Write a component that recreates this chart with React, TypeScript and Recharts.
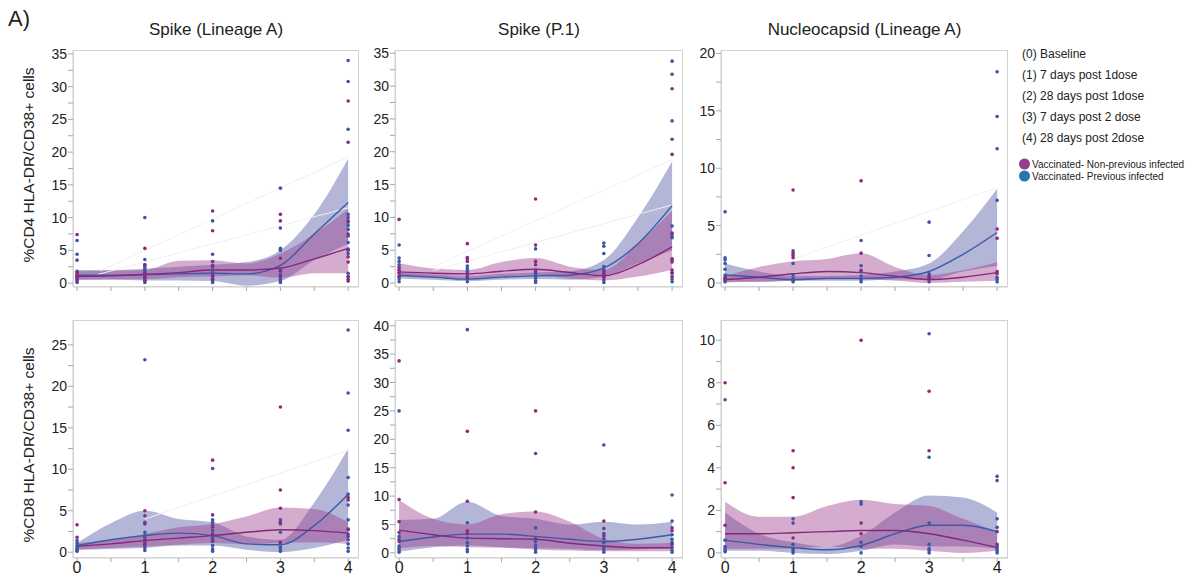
import React from "react";
import { ComposedChart, Area, Line, Scatter, XAxis, YAxis, ReferenceLine } from "recharts";

// sample positions of the fitted curves
const curveX = [0, 0.5, 1, 1.5, 2, 2.5, 3, 3.5, 4];
const timePoints = [0, 1, 2, 3, 4];

const legendLabels = [
  "(0) Baseline",
  "(1) 7 days post 1dose",
  "(2) 28 days post 1dose",
  "(3) 7 days post 2 dose",
  "(4) 28 days post 2dose",
];
const groupNames = ["Vaccinated- Non-previous infected", "Vaccinated- Previous infected"];

// ---- CD4, Spike (Lineage A)
const cd4SpikeANonLine = [1.0, 1.1, 1.3, 1.6, 2.0, 2.0, 2.3, 3.7, 5.3];
const cd4SpikeAPrevLine = [1.2, 1.2, 1.3, 1.4, 1.5, 1.4, 2.7, 7.5, 12.3];
const cd4SpikeANonLo = [0.5, 0.6, 0.6, 0.9, 1.0, 1.2, 0.8, 1.5, 1.5];
const cd4SpikeANonHi = [1.8, 1.9, 2.0, 3.4, 3.5, 3.0, 4.5, 7.5, 11.3];
const cd4SpikeAPrevLo = [0.5, 0.5, 0.4, 0.4, 0.3, -0.4, 0.3, 3.5, 6.0];
const cd4SpikeAPrevHi = [2.0, 2.0, 2.2, 2.5, 2.8, 3.2, 5.0, 10.5, 19.0];
const cd4SpikeANonDots = [
  [7.4, 1.6, 1.2, 0.9, 0.5],
  [5.3, 2.8, 1.5, 0.9, 0.4],
  [11.0, 8.0, 3.3, 2.5, 1.2, 0.6],
  [10.5, 9.5, 3.8, 1.8, 1.0],
  [27.8, 21.5, 9.5, 7.5, 5.0, 4.0, 3.2, 1.0, 0.6, 0.3],
];
const cd4SpikeAPrevDots = [
  [6.5, 4.4, 3.5, 1.8, 1.4, 1.0, 0.7, 0.3, 0.1],
  [10.0, 3.6, 2.8, 2.5, 2.2, 2.0, 1.7, 1.3, 1.0, 0.7, 0.4, 0.1],
  [9.5, 4.4, 2.7, 2.0, 1.6, 1.0, 0.6, 0.3, 0.1],
  [14.5, 8.4, 5.3, 5.0, 2.0, 1.3, 0.6, 0.3, 0.1],
  [34, 30.8, 23.5, 10.5, 10, 9.3, 8.8, 8.2, 7.2, 6.2, 5.2, 4.5, 1.5, 1.0],
];
const cd4SpikeAFaint = [
  [0.35, 1.9, 4, 19.3],
  [0.3, 1.3, 4, 11.5],
];

// ---- CD4, Spike (P.1)
const cd4SpikeP1NonLine = [1.7, 1.5, 1.4, 1.8, 2.1, 1.6, 1.1, 2.8, 5.5];
const cd4SpikeP1PrevLine = [1.2, 0.9, 0.6, 0.9, 1.1, 1.2, 2.3, 6.0, 11.8];
const cd4SpikeP1NonLo = [1.0, 0.8, 0.8, 1.0, 1.2, 0.7, 0.4, 1.0, 2.0];
const cd4SpikeP1NonHi = [3.0, 2.2, 2.0, 3.2, 3.8, 2.5, 2.0, 6.0, 11.0];
const cd4SpikeP1PrevLo = [0.7, 0.5, 0.3, 0.5, 0.6, 0.5, 1.0, 3.0, 5.0];
const cd4SpikeP1PrevHi = [1.6, 1.3, 1.0, 1.4, 1.6, 1.8, 3.5, 10.0, 18.5];
const cd4SpikeP1NonDots = [
  [9.7, 2.4, 2.0, 1.6, 1.0],
  [6.0, 3.9, 3.7, 3.3, 1.5, 0.8],
  [12.8, 5.8, 3.3, 2.8, 1.8],
  [1.8, 1.3, 0.9],
  [29.6, 19.6, 7.6, 3.7, 3.2, 2.0, 1.6, 1.0],
];
const cd4SpikeP1PrevDots = [
  [5.8, 3.8, 3.3, 2.8, 2.0, 1.5, 1.0, 0.6, 0.2],
  [2.6, 2.2, 1.8, 1.3, 1.0, 0.6, 0.2],
  [5.2, 2.0, 1.5, 1.2, 0.8, 0.4, 0.1],
  [6.1, 5.6, 4.5, 2.5, 2.0, 1.5, 1.0, 0.5, 0.1],
  [33.8, 31.8, 24.7, 21.9, 8.7, 7.2, 6.9, 3.5, 1.5, 0.6, 0.2],
];
const cd4SpikeP1Faint = [
  [0.5, 2.5, 4, 18.8],
  [0.5, 1.9, 4, 11.9],
];

// ---- CD4, Nucleocapsid (Lineage A)
const cd4NucNonLine = [0.3, 0.5, 0.8, 1.0, 0.9, 0.6, 0.3, 0.5, 0.9];
const cd4NucPrevLine = [0.7, 0.5, 0.3, 0.4, 0.4, 0.5, 1.0, 2.5, 4.4];
const cd4NucNonLo = [0.05, 0.1, 0.2, 0.3, 0.3, 0.2, 0.0, 0.1, 0.2];
const cd4NucNonHi = [0.6, 1.4, 1.9, 2.1, 2.6, 1.4, 0.7, 1.1, 1.8];
const cd4NucPrevLo = [0.1, 0.1, 0.2, 0.2, 0.2, 0.3, 0.3, 1.0, 1.5];
const cd4NucPrevHi = [1.7, 1.0, 0.6, 0.6, 0.7, 1.0, 1.7, 4.5, 8.2];
const cd4NucNonDots = [
  [0.5, 0.3],
  [8.1, 2.6, 2.4, 2.2],
  [8.9, 2.6, 1.1],
  [0.6, 0.4],
  [4.7, 3.9, 1.0, 0.8],
];
const cd4NucPrevDots = [
  [6.2, 2.2, 2.0, 1.7, 1.2, 0.7, 0.4, 0.2, 0.1],
  [2.8, 1.7, 0.7, 0.4, 0.2, 0.1],
  [3.7, 1.5, 1.0, 0.6, 0.3, 0.1],
  [5.3, 2.4, 0.8, 0.5, 0.3, 0.1],
  [18.4, 14.5, 11.7, 7.2, 0.5, 0.3, 0.1],
];
const cd4NucFaint = [[1, 2.1, 4, 8.3]];

// ---- CD8, Spike (Lineage A)
const cd8SpikeANonLine = [0.7, 1.0, 1.4, 1.7, 2.0, 2.4, 2.7, 2.6, 2.3];
const cd8SpikeAPrevLine = [0.8, 1.5, 2.0, 2.3, 2.0, 1.0, 0.9, 3.2, 7.0];
const cd8SpikeANonLo = [0.3, 0.5, 0.7, 0.9, 1.1, 1.0, 1.1, 1.2, 1.0];
const cd8SpikeANonHi = [1.1, 1.5, 2.2, 3.0, 3.4, 4.3, 5.4, 5.2, 3.6];
const cd8SpikeAPrevLo = [0.3, 0.4, 0.5, 0.8, 0.8, 0.3, 0.0, 0.5, 1.5];
const cd8SpikeAPrevHi = [1.1, 3.5, 5.0, 4.0, 3.6, 1.9, 1.5, 6.0, 12.5];
const cd8SpikeANonDots = [
  [3.3, 1.8],
  [5.0, 4.4, 3.4, 1.5, 1.0],
  [11.1, 4.5, 3.0, 2.2, 1.5],
  [17.5, 7.5, 5.3, 3.6, 1.2],
  [6.6, 6.3, 2.8, 1.9],
];
const cd8SpikeAPrevDots = [
  [1.4, 1.1, 0.8, 0.6, 0.4, 0.2, 0.1],
  [23.2, 3.6, 2.4, 2.0, 1.8, 1.2, 0.8, 0.5, 0.2],
  [10.1, 3.9, 3.6, 3.3, 2.6, 1.8, 1.3, 0.8, 0.4, 0.1],
  [3.9, 3.4, 2.4, 1.0, 0.6, 0.3, 0.1],
  [26.8, 19.2, 14.7, 9.0, 7.0, 5.7, 3.9, 2.7, 2.2, 1.5, 1.0, 0.5, 0.1],
];
const cd8SpikeAFaint = [[1, 4.0, 4, 12.3]];

// ---- CD8, Spike (P.1)
const cd8SpikeP1NonLine = [4.0, 3.2, 2.6, 2.5, 2.4, 1.7, 1.2, 0.9, 0.9];
const cd8SpikeP1PrevLine = [2.0, 2.8, 3.3, 3.3, 2.9, 2.4, 2.0, 2.4, 3.2];
const cd8SpikeP1NonLo = [0.8, 1.2, 1.0, 0.9, 0.6, 0.4, 0.3, 0.3, 0.3];
const cd8SpikeP1NonHi = [9.3, 6.0, 5.0, 6.8, 7.3, 5.5, 2.5, 1.6, 1.8];
const cd8SpikeP1PrevLo = [0.2, 1.0, 1.3, 1.0, 0.8, 0.7, 0.5, 0.6, 0.8];
const cd8SpikeP1PrevHi = [5.8, 6.0, 9.0, 6.5, 6.0, 5.0, 5.5, 5.0, 5.5];
const cd8SpikeP1NonDots = [
  [33.8, 9.4, 5.5, 3.6, 2.0],
  [21.4, 9.1, 3.9, 3.4],
  [25.0, 7.2, 2.5],
  [5.6, 4.3, 3.0],
  [4.4, 3.9, 1.5],
];
const cd8SpikeP1PrevDots = [
  [25.0, 2.9, 2.4, 1.2, 0.8, 0.4, 0.1],
  [39.3, 5.3, 2.6, 1.8, 1.2, 0.6, 0.2],
  [17.5, 4.4, 2.0, 1.4, 0.9, 0.5, 0.1],
  [19.0, 3.4, 2.5, 1.8, 1.0, 0.5, 0.1],
  [10.2, 5.6, 3.2, 2.4, 1.8, 1.0, 0.5, 0.1],
];

// ---- CD8, Nucleocapsid (Lineage A)
const cd8NucNonLine = [0.9, 0.9, 0.95, 1.0, 1.05, 1.05, 0.9, 0.6, 0.25];
const cd8NucPrevLine = [0.6, 0.4, 0.25, 0.15, 0.35, 0.9, 1.3, 1.3, 1.0];
const cd8NucNonLo = [0.2, 0.2, 0.2, 0.3, 0.2, 0.2, 0.1, 0.0, 0.1];
const cd8NucNonHi = [2.4, 1.7, 1.7, 2.2, 2.5, 2.3, 2.2, 1.6, 1.0];
const cd8NucPrevLo = [0.1, 0.1, 0.0, -0.05, 0.1, 0.4, 0.3, 0.3, 0.2];
const cd8NucPrevHi = [1.9, 0.9, 0.5, 0.3, 0.8, 1.9, 2.7, 2.6, 1.9];
const cd8NucNonDots = [
  [8.0, 3.3, 1.3],
  [4.8, 4.0, 2.6, 0.7],
  [10.0, 1.4, 0.9],
  [7.6, 4.8],
  [1.0, 0.4],
];
const cd8NucPrevDots = [
  [7.2, 0.6, 0.3, 0.2, 0.1, 0.05],
  [1.6, 1.4, 0.4, 0.2, 0.1, 0.0],
  [2.4, 2.3, 0.5, 0.3, 0.0],
  [10.3, 4.5, 1.4, 0.4, 0.2, 0.1, 0.0],
  [3.6, 3.4, 1.6, 1.2, 0.3, 0.2, 0.1, 0.0],
];

const PURPLE_DOT = "#8c2a7f";
const BLUE_DOT = "#3c55a5";
const PURPLE_LINE = "#86277c";
const BLUE_LINE = "#3b5aa6";
const FONT = "'Liberation Sans', Arial, sans-serif";

const xTicks = [0, 0.5, 1, 1.5, 2, 2.5, 3, 3.5, 4];

function range(max: number, step: number) {
  const out: number[] = [];
  for (let v = 0; v <= max + 1e-9; v += step) out.push(Math.round(v * 100) / 100);
  return out;
}

function buildRows(nl: number[], pl: number[], nlo: number[], nhi: number[], plo: number[], phi: number[]) {
  return curveX.map((x, i) => ({
    x,
    nonLine: nl[i],
    prevLine: pl[i],
    nonBand: [nlo[i], nhi[i]],
    prevBand: [plo[i], phi[i]],
  }));
}

function flatten(dots: number[][]) {
  const out: { x: number; y: number }[] = [];
  dots.forEach((col, i) => col.forEach((y) => out.push({ x: timePoints[i], y })));
  return out;
}

interface PanelProps {
  left: number;
  top: number;
  w: number;
  h: number;
  yDomain: [number, number];
  yTicks: number[];
  yMajor: number;
  showXLabels: boolean;
  rows: any[];
  nonDots: number[][];
  prevDots: number[][];
  faint?: number[][];
}

function Panel({ left, top, w, h, yDomain, yTicks, yMajor, showXLabels, rows, nonDots, prevDots, faint = [] }: PanelProps) {
  const yw = 40;
  const xh = 22;
  const pad = 10;
  const yTick = (p: any) => {
    const v = p.payload.value;
    if (Math.abs(v / yMajor - Math.round(v / yMajor)) > 1e-6) return <g />;
    return (
      <text x={p.x} y={p.y} dy="0.36em" textAnchor="end" fontSize={14} fill="#222" fontFamily={FONT}>
        {v}
      </text>
    );
  };
  const xTick = (p: any) => {
    const v = p.payload.value;
    if (!showXLabels || !Number.isInteger(v)) return <g />;
    return (
      <text x={p.x} y={p.y} dy="0.7em" textAnchor="middle" fontSize={16} fill="#222" fontFamily={FONT}>
        {v}
      </text>
    );
  };
  return (
    <>
      <div style={{ position: "absolute", left: left - yw, top: top - pad }}>
        <ComposedChart width={w + yw + 4} height={h + xh + pad} data={rows} margin={{ top: pad, right: 4, bottom: 0, left: 0 }}>
          <XAxis
            type="number"
            dataKey="x"
            domain={[-0.06, 4.16]}
            allowDataOverflow
            ticks={xTicks}
            height={xh}
            tickSize={4}
            tickMargin={0}
            axisLine={{ stroke: "#cfcfcf" }}
            tickLine={{ stroke: "#a8a8a8" }}
            tick={xTick}
            interval={0}
          />
          <YAxis
            type="number"
            domain={yDomain}
            allowDataOverflow
            ticks={yTicks}
            width={yw}
            tickSize={5}
            tickMargin={1}
            axisLine={{ stroke: "#cfcfcf" }}
            tickLine={{ stroke: "#a8a8a8" }}
            tick={yTick}
            interval={0}
          />
          {faint.map((f, i) => (
            <ReferenceLine
              key={i}
              segment={[
                { x: f[0], y: f[1] },
                { x: f[2], y: f[3] },
              ]}
              stroke="#f4edf2"
              strokeWidth={1}
            />
          ))}
          <Area
            type="monotone"
            dataKey="prevBand"
            stroke="none"
            fill="#4a52a0"
            fillOpacity={0.42}
            isAnimationActive={false}
          />
          <Area
            type="monotone"
            dataKey="nonBand"
            stroke="none"
            fill="#9a3a8a"
            fillOpacity={0.42}
            isAnimationActive={false}
          />
          <Line type="monotone" dataKey="prevLine" stroke={BLUE_LINE} strokeWidth={1.4} dot={false} isAnimationActive={false} />
          <Line type="monotone" dataKey="nonLine" stroke={PURPLE_LINE} strokeWidth={1.4} dot={false} isAnimationActive={false} />
          <Scatter
            data={flatten(prevDots)}
            dataKey="y"
            isAnimationActive={false}
            shape={(p: any) => <circle cx={p.cx} cy={p.cy} r={1.8} fill={BLUE_DOT} />}
          />
          <Scatter
            data={flatten(nonDots)}
            dataKey="y"
            isAnimationActive={false}
            shape={(p: any) => <circle cx={p.cx} cy={p.cy} r={1.8} fill={PURPLE_DOT} />}
          />
        </ComposedChart>
      </div>
      <div
        style={{
          position: "absolute",
          left,
          top,
          width: w,
          height: h,
          border: "1px solid #d2d2d2",
          boxSizing: "border-box",
          pointerEvents: "none",
        }}
      />
    </>
  );
}

const cols = [
  { left: 73, w: 286 },
  { left: 395, w: 288 },
  { left: 721, w: 287 },
];
const titles = ["Spike (Lineage A)", "Spike (P.1)", "Nucleocapsid (Lineage A)"];

export default function App() {
  const topY = 50;
  const topH = 237;
  const botY = 320;
  const botH = 238;
  return (
    <div
      style={{
        position: "absolute",
        left: 0,
        top: 0,
        width: 1191,
        height: 577,
        background: "#fff",
        fontFamily: FONT,
        color: "#222",
        overflow: "hidden",
      }}
    >
      <div style={{ position: "absolute", left: 8, top: 6, fontSize: 22 }}>A)</div>
      {titles.map((t, i) => (
        <div
          key={t}
          style={{
            position: "absolute",
            left: cols[i].left,
            width: cols[i].w,
            top: 20,
            textAlign: "center",
            fontSize: 17,
            whiteSpace: "nowrap",
          }}
        >
          {t}
        </div>
      ))}
      <div
        style={{
          position: "absolute",
          left: 29,
          top: 165,
          transform: "translate(-50%, -50%) rotate(-90deg)",
          fontSize: 15.5,
          whiteSpace: "nowrap",
        }}
      >
        %CD4 HLA-DR/CD38+ cells
      </div>
      <div
        style={{
          position: "absolute",
          left: 29,
          top: 445,
          transform: "translate(-50%, -50%) rotate(-90deg)",
          fontSize: 15.5,
          whiteSpace: "nowrap",
        }}
      >
        %CD8 HLA-DR/CD38+ cells
      </div>

      <Panel
        left={cols[0].left}
        w={cols[0].w}
        top={topY}
        h={topH}
        yDomain={[-0.6, 35.6]}
        yTicks={range(35, 2.5)}
        yMajor={5}
        showXLabels={false}
        rows={buildRows(cd4SpikeANonLine, cd4SpikeAPrevLine, cd4SpikeANonLo, cd4SpikeANonHi, cd4SpikeAPrevLo, cd4SpikeAPrevHi)}
        nonDots={cd4SpikeANonDots}
        prevDots={cd4SpikeAPrevDots}
        faint={cd4SpikeAFaint}
      />
      <Panel
        left={cols[1].left}
        w={cols[1].w}
        top={topY}
        h={topH}
        yDomain={[-0.6, 35.5]}
        yTicks={range(35, 2.5)}
        yMajor={5}
        showXLabels={false}
        rows={buildRows(cd4SpikeP1NonLine, cd4SpikeP1PrevLine, cd4SpikeP1NonLo, cd4SpikeP1NonHi, cd4SpikeP1PrevLo, cd4SpikeP1PrevHi)}
        nonDots={cd4SpikeP1NonDots}
        prevDots={cd4SpikeP1PrevDots}
        faint={cd4SpikeP1Faint}
      />
      <Panel
        left={cols[2].left}
        w={cols[2].w}
        top={topY}
        h={topH}
        yDomain={[-0.35, 20.3]}
        yTicks={range(20, 2.5)}
        yMajor={5}
        showXLabels={false}
        rows={buildRows(cd4NucNonLine, cd4NucPrevLine, cd4NucNonLo, cd4NucNonHi, cd4NucPrevLo, cd4NucPrevHi)}
        nonDots={cd4NucNonDots}
        prevDots={cd4NucPrevDots}
        faint={cd4NucFaint}
      />
      <Panel
        left={cols[0].left}
        w={cols[0].w}
        top={botY}
        h={botH}
        yDomain={[-0.7, 28]}
        yTicks={range(25, 2.5)}
        yMajor={5}
        showXLabels
        rows={buildRows(cd8SpikeANonLine, cd8SpikeAPrevLine, cd8SpikeANonLo, cd8SpikeANonHi, cd8SpikeAPrevLo, cd8SpikeAPrevHi)}
        nonDots={cd8SpikeANonDots}
        prevDots={cd8SpikeAPrevDots}
        faint={cd8SpikeAFaint}
      />
      <Panel
        left={cols[1].left}
        w={cols[1].w}
        top={botY}
        h={botH}
        yDomain={[-0.9, 41]}
        yTicks={range(40, 2.5)}
        yMajor={5}
        showXLabels
        rows={buildRows(cd8SpikeP1NonLine, cd8SpikeP1PrevLine, cd8SpikeP1NonLo, cd8SpikeP1NonHi, cd8SpikeP1PrevLo, cd8SpikeP1PrevHi)}
        nonDots={cd8SpikeP1NonDots}
        prevDots={cd8SpikeP1PrevDots}
      />
      <Panel
        left={cols[2].left}
        w={cols[2].w}
        top={botY}
        h={botH}
        yDomain={[-0.24, 10.95]}
        yTicks={range(10, 1)}
        yMajor={2}
        showXLabels
        rows={buildRows(cd8NucNonLine, cd8NucPrevLine, cd8NucNonLo, cd8NucNonHi, cd8NucPrevLo, cd8NucPrevHi)}
        nonDots={cd8NucNonDots}
        prevDots={cd8NucPrevDots}
      />

      {legendLabels.map((l, i) => (
        <div
          key={l}
          style={{
            position: "absolute",
            left: 1022,
            top: 54 + i * 21,
            transform: "translateY(-50%)",
            fontSize: 12,
            whiteSpace: "nowrap",
          }}
        >
          {l}
        </div>
      ))}
      {groupNames.map((g, i) => (
        <div
          key={g}
          style={{
            position: "absolute",
            left: 1019,
            top: 164 + i * 12,
            transform: "translateY(-50%)",
            fontSize: 10,
            whiteSpace: "nowrap",
            display: "flex",
            alignItems: "center",
          }}
        >
          <span
            style={{
              display: "inline-block",
              width: 11,
              height: 11,
              borderRadius: "50%",
              background: i === 0 ? "#993b8f" : "#2277ad",
              marginRight: 2,
            }}
          />
          {g}
        </div>
      ))}
    </div>
  );
}
